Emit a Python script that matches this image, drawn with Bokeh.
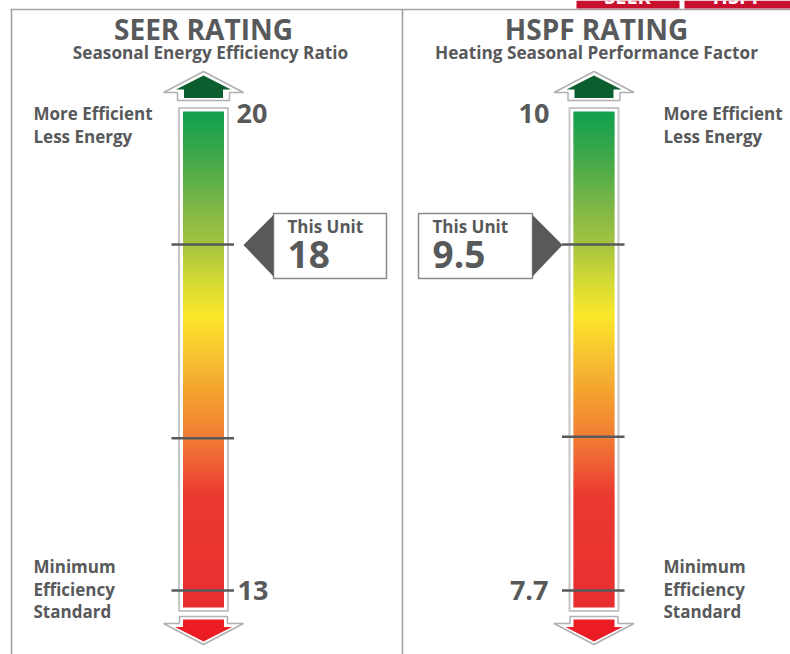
import numpy as np
from bokeh.plotting import figure
from bokeh.models import Range1d
from bokeh.core.properties import value
from bokeh.embed import file_html
from bokeh.resources import INLINE

# ---------------- data ----------------
titles = ["SEER RATING", "HSPF RATING"]
subtitles = ["Seasonal Energy Efficiency Ratio", "Heating Seasonal Performance Factor"]
tab_labels = ["SEER", "HSPF"]
min_values = [13, 7.7]
max_values = [20, 10]
unit_values = [18, 9.5]
mid_values = [15.2, 8.5]          # unlabeled middle tick
scale_tops = [20, 10.22]          # value reached at the top of each gauge's scale
max_label_lines = ["More Efficient", "Less Energy"]
min_label_lines = ["Minimum", "Efficiency", "Standard"]
unit_label = "This Unit"

# ---------------- layout / style ----------------
W, H = 790, 654
FONT = value("Open Sans")
DARK = "#58595b"
FRAME = "#a3a3a3"
BORDER = "#c6c6c6"

bar_cx = [203.0, 593.5]
title_cx = [203.0, 596.0]
sub_cx = [210.0, 596.0]
side_text_x = [33, 663]
Y_MIN_TICK = 590.0
Y_SCALE_TOP = 105.6
BAR_TOP, BAR_BOT = 111.0, 607.0

grad_pos = [0.0, 0.10, 0.18, 0.27, 0.34, 0.41, 0.49, 0.57, 0.65, 0.71, 0.77, 1.0]
grad_col = ["#10a04e", "#45a948", "#78b548", "#a6c43f", "#d2d936", "#fbe729",
            "#f6c331", "#f3a02f", "#f17f35", "#ee6034", "#ea3a31", "#e82f30"]


def hex2rgb(h):
    return np.array([int(h[i:i + 2], 16) for i in (1, 3, 5)], dtype=float)


grad_rgb = np.array([hex2rgb(c) for c in grad_col])


def gy(v, i):
    lo = min_values[i]
    return Y_MIN_TICK - (v - lo) / (scale_tops[i] - lo) * (Y_MIN_TICK - Y_SCALE_TOP)


p = figure(width=W, height=H, x_range=Range1d(0, W), y_range=Range1d(H, 0),
           output_backend="svg", toolbar_location=None,
           x_axis_type=None, y_axis_type=None, min_border=0,
           outline_line_color=None, background_fill_color="white")


def txt(x, y, t, size, align="left", color=DARK):
    # y is the intended baseline; compensate the renderer's baseline offset
    y_adj = y - (0.3 * size + 1.5)
    p.text(x=[x], y=[y_adj], text=[t], text_font=FONT, text_font_style="bold",
           text_font_size=f"{size}px", text_color=color, text_align=align,
           text_baseline="alphabetic")


# frame
p.segment(x0=[10, 11, 402], y0=[9, 9, 9], x1=[790, 11, 402], y1=[9, 654, 654],
          line_color=FRAME, line_width=1.6)
# red tabs at top right (their labels are cut off by the top edge, as in the original)
p.quad(left=[576, 684], right=[679, 790], top=[0, 0], bottom=[8, 8],
       fill_color="#c8102e", line_color=None)
txt(627, 3, tab_labels[0], 20, "center", "white")
txt(737, 3, tab_labels[1], 20, "center", "white")

for i in range(2):
    cx = bar_cx[i]
    # titles
    txt(title_cx[i], 38.5, titles[i], 28, "center")
    txt(sub_cx[i], 59, subtitles[i], 17.2, "center")

    # up arrow (outline + fill)
    p.patch(x=[cx, cx + 40, cx + 26, cx + 26, cx - 26, cx - 26, cx - 40],
            y=[71, 92, 92, 100, 100, 92, 92],
            fill_color="white", line_color="#b0b0b0", line_width=1.5)
    p.patch(x=[cx, cx + 27.5, cx + 19.5, cx + 19.5, cx - 19.5, cx - 19.5, cx - 27.5],
            y=[75, 89, 89, 97.5, 97.5, 89, 89],
            fill_color="#0b5e2e", line_color=None)
    # down arrow
    p.patch(x=[cx - 24, cx + 24, cx + 24, cx + 40, cx, cx - 40, cx - 24],
            y=[616, 616, 623, 623, 644, 623, 623],
            fill_color="white", line_color="#b0b0b0", line_width=1.5)
    p.patch(x=[cx - 20.5, cx + 20.5, cx + 20.5, cx + 28.5, cx, cx - 28.5, cx - 20.5],
            y=[619, 619, 626.5, 626.5, 641, 626.5, 626.5],
            fill_color="#ec1c24", line_color=None)

    # bar outline
    p.quad(left=[cx - 24.5], right=[cx + 24.5], top=[107.5], bottom=[610.5],
           fill_color="white", line_color=BORDER, line_width=2)
    # gradient bar
    ys = np.arange(BAR_TOP, BAR_BOT, 1.0)
    fr = (ys - BAR_TOP) / (BAR_BOT - BAR_TOP)
    cols = ["#%02x%02x%02x" % tuple(int(round(np.interp(f, grad_pos, grad_rgb[:, k])))
                                    for k in range(3)) for f in fr]
    p.quad(left=cx - 20.5, right=cx + 20.5, top=ys, bottom=np.minimum(ys + 1.6, BAR_BOT),
           fill_color=cols, line_color=None)

    # ticks
    tick_vals = [min_values[i], mid_values[i], unit_values[i]]
    tys = [gy(v, i) for v in tick_vals]
    p.segment(x0=[cx - 32] * 3, x1=[cx + 30.5] * 3, y0=tys, y1=tys,
              line_color=DARK, line_width=2.5)

    # min / max labels
    y_min = gy(min_values[i], i)
    if i == 0:
        txt(cx + 33, 123, f"{max_values[i]:g}", 27, "left")
        txt(cx + 34, y_min + 10, f"{min_values[i]:g}", 27, "left")
    else:
        txt(cx - 44.5, 123, f"{max_values[i]:g}", 27, "right")
        txt(cx - 45.5, y_min + 10, f"{min_values[i]:g}", 27, "right")

    # side texts
    for k, line in enumerate(max_label_lines):
        txt(side_text_x[i], 120 + 23 * k, line, 17)
    for k, line in enumerate(min_label_lines):
        txt(side_text_x[i], y_min - 17 + 22.5 * k, line, 17)

    # callout
    uy = gy(unit_values[i], i)
    if i == 0:
        tip_x, base_x, far_x = cx + 40, cx + 70, cx + 183
        box_l = base_x
    else:
        tip_x, base_x, far_x = cx - 31.5, cx - 61.5, cx - 175.5
        box_l = far_x
    box_r = max(base_x, far_x)
    p.quad(left=[box_l], right=[box_r], top=[uy - 31], bottom=[uy + 34],
           fill_color="white", line_color="#8a8a8a", line_width=1.5)
    p.patch(x=[base_x, tip_x, base_x], y=[uy - 29.5, uy + 0.5, uy + 32],
            fill_color=DARK, line_color=None)
    txt(box_l + 14, uy - 11, unit_label, 17)
    txt(box_l + 14, uy + 23, f"{unit_values[i]:g}", 37)

html = file_html(p, INLINE)
html = html.replace("</head>", "<style>html,body{margin:0;padding:0;overflow:hidden;}</style></head>", 1)
open("out.html", "w").write(html)
